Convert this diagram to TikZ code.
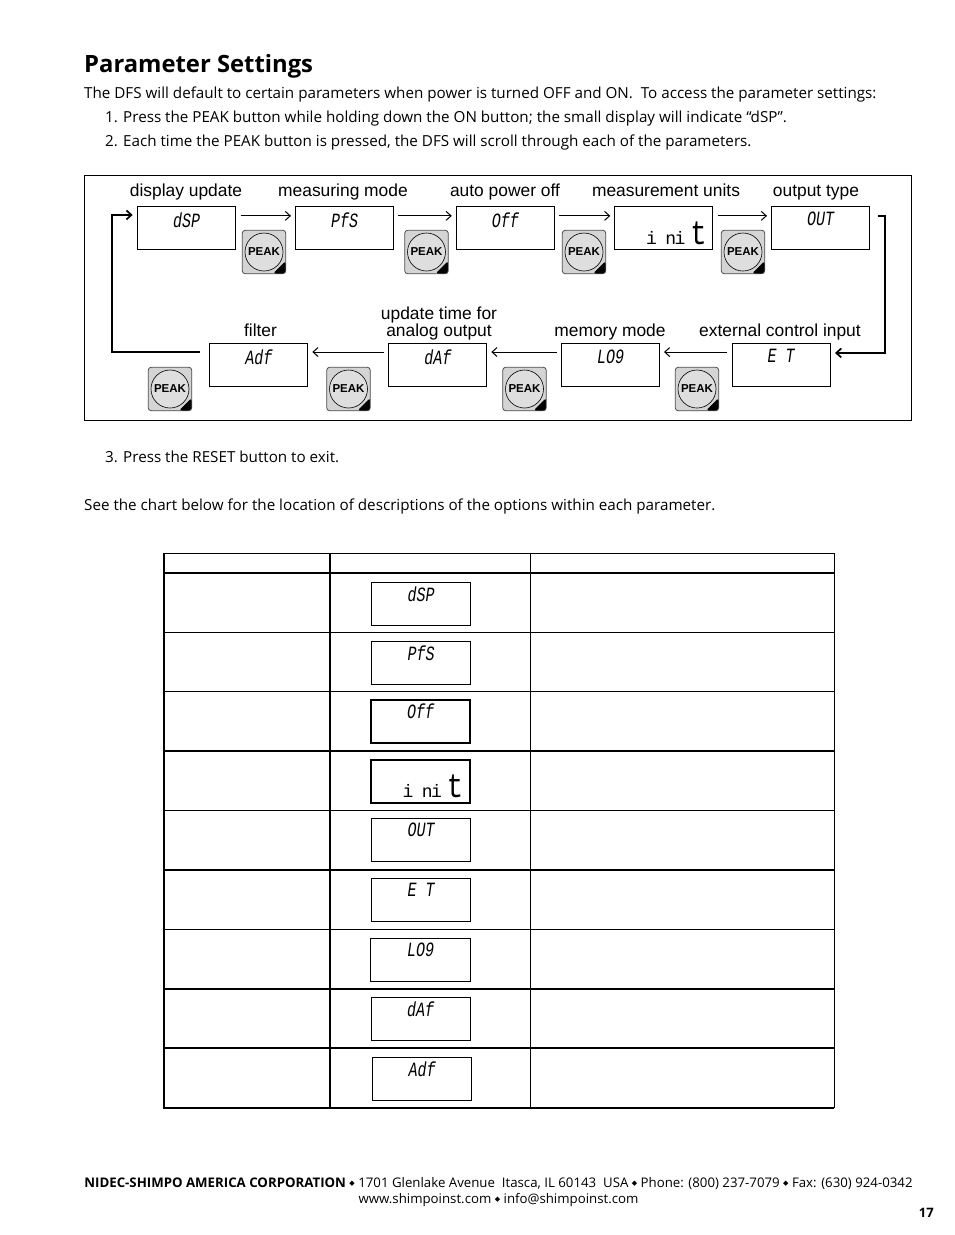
\documentclass[tikz,border=0pt]{standalone}
\usepackage{fontspec}
\usetikzlibrary{arrows.meta}
\setmainfont{Open Sans}
\newfontfamily\labelfont{Liberation Sans}
\newfontfamily\lcdfont{Liberation Mono}
\newfontfamily\symfont{DejaVu Sans}
\newcommand{\lcdinit}{\fontsize{18}{18}\selectfont i\kern8.6pt n\kern-1.6pt i\kern5pt\scalebox{.8}[1]{\fontsize{34}{34}\selectfont t}}
\newcommand{\footdot}{\raisebox{1.5pt}{\symfont\fontsize{7}{7}\selectfont ◆}}
\tikzset{
	bodytext/.style={anchor=base west,inner sep=0pt,font=\fontsize{15.2}{17}\selectfont},
	steplabel/.style={anchor=base,inner sep=0pt,align=center,font=\labelfont\fontsize{17.4}{17.5}\selectfont},
	lcdbox/.style={draw,line width=1pt,minimum width=98pt,minimum height=43pt,inner sep=0pt},
	lcdtext/.style={anchor=north,inner sep=0pt,font=\lcdfont\itshape\fontsize{15}{15}\selectfont},
	lcdbig/.style={anchor=base east,inner sep=0pt,font=\lcdfont},
	flow/.style={-{Straight Barb[length=5pt,width=9pt]},line width=1pt,shorten <=4.3pt,shorten >=4pt},
	flowthick/.style={-{Straight Barb[length=5pt,width=9pt]},line width=1.7pt},
	peakbtn/.style={draw=black!70,line width=0.8pt,fill=black!17,rounded corners=3pt,minimum size=43.5pt,inner sep=0pt,
		path picture={\fill[black] (path picture bounding box.south east) -- ++(-13,0) -- ++(13,-13) -- cycle;}},
	peakdisc/.style={draw,circle,line width=0.6pt,fill=black!13,minimum size=38pt,inner sep=0pt,font=\labelfont\bfseries\fontsize{11.5}{12}\selectfont},
	tablethin/.style={line width=1pt},
	tablethick/.style={line width=2pt}
}
\begin{document}
\begin{tikzpicture}[x=1pt,y=-1pt]
	\useasboundingbox (0,0) rectangle (954,1235);
	\fill[white] (0,0) rectangle (954,1235);

	% Page text
	\node[anchor=base west,inner sep=0pt,font=\bfseries\fontsize{23.8}{26}\selectfont] (title) at (84,72) {Parameter Settings};
	\node[bodytext] (intro) at (84,98) {The DFS will default to certain parameters when power is turned OFF and ON.\ \ To access the parameter settings:};
	\node[bodytext] (stepa) at (105,122) {1. Press the PEAK button while holding down the ON button; the small display will indicate “dSP”.};
	\node[bodytext] (stepb) at (105,146) {2. Each time the PEAK button is pressed, the DFS will scroll through each of the parameters.};
	\node[bodytext] (stepc) at (105,462) {3. Press the RESET button to exit.};
	\node[bodytext] (seechart) at (84,510) {See the chart below for the location of descriptions of the options within each parameter.};

	% Frame of the flow diagram
	\node[draw,line width=1pt,minimum width=827pt,minimum height=245pt,inner sep=0pt] (frame) at (497.5,297.5) {};

	% Displays of the flow diagram
	\foreach \name/\x/\y/\txt in {dsp/186.7/228.2/dSP,pfs/344.5/228.2/PfS,off/505.3/228.2/Off,out/820.5/228.2/OUT,
		et/781/365.3/E T,log/610.5/365.3/LO9,daf/437.8/365.3/dAf,adf/258.8/365.3/Adf}{
		\node[lcdbox] (\name) at (\x,\y) {};
		\node[lcdtext] (\name text) at ([yshift=-6pt]\name.north) {\scalebox{1}[1.35]{\txt}};
	}
	\node[lcdbox] (unit) at (663.8,228.2) {};
	\node[lcdbig] (unit text) at (707,244.5) {\lcdinit};

	% Labels above the displays
	\node[steplabel] (ldsp) at (186,196) {display update};
	\node[steplabel] (lpfs) at (343,196.5) {measuring mode};
	\node[steplabel] (loff) at (505,196) {auto power off};
	\node[steplabel] (lunit) at (666,196) {measurement units};
	\node[steplabel] (lout) at (816,196.5) {output type};
	\node[steplabel] (ladf) at (260.5,336.7) {filter};
	\node[steplabel] (ldaf) at (439,336.7) {update time for\\analog output};
	\node[steplabel] (llog) at (610,336.7) {memory mode};
	\node[steplabel] (let) at (780,336.7) {external control input};

	% PEAK buttons
	\foreach \name/\x/\y in {pa/264/252,pb/426.5/252,pc/584/252,pd/743/252,pe/170/389,pf/348.5/389,pg/524.5/389,ph/697/389}{
		\node[peakbtn] (\name) at (\x,\y) {};
		\node[peakdisc] (\name disc) at (\name) {PEAK};
	}

	% Arrows
	\draw[flow] (dsp.14.5) -- (dsp.14.5 -| pfs.west);
	\draw[flow] (pfs.14.5) -- (pfs.14.5 -| off.west);
	\draw[flow] (off.14.5) -- (off.14.5 -| unit.west);
	\draw[flow] (unit.14.5) -- (unit.14.5 -| out.west);
	\draw[flow] (et.165.5) -- (et.165.5 -| log.east);
	\draw[flow] (log.165.5) -- (log.165.5 -| daf.east);
	\draw[flow] (daf.165.5) -- (daf.165.5 -| adf.east);
	\draw[flowthick,shorten <=9.3pt,shorten >=4.5pt] (adf.165.5) -- ++(-97.1,0) |- (dsp.west |- dsp.165.5);
	\draw[flowthick,shorten <=7.5pt,shorten >=4.5pt] (out.14.5) -- ++(15.2,0) |- (et.east |- et.14.5);

	% Table rows
	\draw[tablethin] (164,553) -- (834,553);
	\foreach \y in {632.5,691.5,810.5,929.5}
		\draw[tablethin] (164,\y) -- (834,\y);
	\foreach \y in {573,751,870,989,1048,1108}
		\draw[tablethick] (164,\y) -- (834,\y);

	% Table columns
	\draw[tablethick] (164,553) -- (164,1109);
	\draw[tablethick] (330,553) -- (330,1109);
	\draw[tablethin] (530.5,553) -- (530.5,1108);
	\draw[tablethin] (834,553) -- (834,1108);

	% Displays of the table
	\foreach \name/\x/\y/\boxw/\lw/\txt in {tdsp/421/603.8/99/1/dSP,tpfs/421/662.8/99/1/PfS,toff/420.7/721.2/99/1.8/Off,
		tout/421/839.8/99/1/OUT,tet/421/899.8/99/1/E T,tlog/420.5/959.8/100/1.3/LO9,tdaf/420.7/1018.8/99/1.3/dAf,tadf/422.2/1078.8/99/1/Adf}{
		\node[lcdbox,minimum width=\boxw pt,line width=\lw pt] (\name) at (\x,\y) {};
		\node[lcdtext] (\name text) at ([yshift=-5pt]\name.north) {\scalebox{1}[1.35]{\txt}};
	}
	\node[lcdbox,minimum width=99pt,line width=1.8pt] (tunit) at (420.7,781.5) {};
	\node[lcdbig] (tunit text) at (463.5,797.5) {\lcdinit};

	% Footer
	\node[anchor=base,inner sep=0pt,font=\fontsize{13.25}{15}\selectfont] (footera) at (498.5,1187) {\textbf{NIDEC-SHIMPO AMERICA CORPORATION} \footdot{} 1701 Glenlake Avenue\ \ Itasca, IL 60143\ \ USA \footdot{} Phone: (800) 237-7079 \footdot{} Fax: (630) 924-0342};
	\node[anchor=base,inner sep=0pt,font=\fontsize{13.25}{15}\selectfont] (footerb) at (498.5,1203) {www.shimpoinst.com \footdot{} info@shimpoinst.com};
	\node[anchor=base east,inner sep=0pt,font=\bfseries\fontsize{13}{15}\selectfont] (pagenum) at (934,1217) {17};
\end{tikzpicture}
\end{document}
